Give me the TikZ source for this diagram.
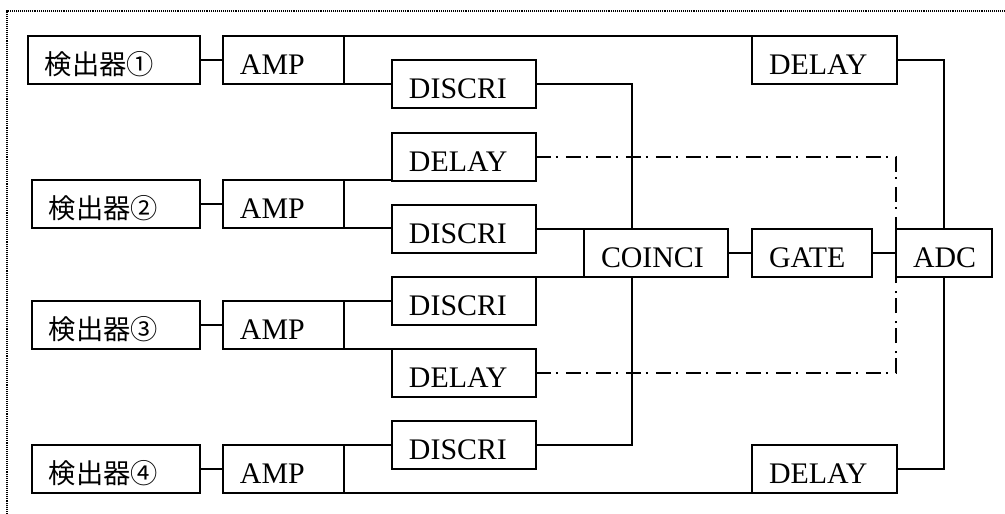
\documentclass[tikz,border=0pt]{standalone}
\usepackage{fontspec}
\setmainfont{Liberation Serif}
\newfontfamily\jpfont{Noto Sans CJK JP}
\usetikzlibrary{calc}

\tikzset{
  modbox/.style={draw, line width=0.9pt, anchor=north west, outer sep=0pt,
    minimum height=0.96cm, inner xsep=0pt, inner ysep=0pt, text width=#1,
    align=left, text height=0.6cm, text depth=0pt,
    execute at begin node={\hspace*{0.34cm}}},
  wire/.style={line width=0.9pt},
  sync/.style={line width=0.9pt, dash pattern=on 0.3cm off 0.1cm on 0.04cm off 0.16cm},
}

\begin{document}
\begin{tikzpicture}[x=0.02cm, y=-0.02cm, font=\fontsize{17pt}{20pt}\selectfont]
  \useasboundingbox (0,0) rectangle (1005,514);

  % dotted frame
  \draw[line width=0.6pt, dash pattern=on 0.55pt off 0.55pt] (7,514) -- (7,11) -- (1005,11);

  % detectors and amplifiers
  \foreach \i/\x/\y/\w/\n in {1/28/36/3.44cm/①, 2/32/180/3.36cm/②, 3/32/301/3.36cm/③, 4/32/445/3.36cm/④} {
    \node[modbox=\w] (det\i) at (\x,\y) {\jpfont\fontsize{15.5pt}{18pt}\selectfont 検出器\n};
    \node[modbox=2.42cm] (amp\i) at (223,\y) {AMP};
    \draw[wire] (det\i) -- (amp\i);
  }

  % discriminators and delays
  \node[modbox=2.88cm] (discA) at (392,60) {DISCRI};
  \node[modbox=2.88cm] (delayB) at (392,133) {DELAY};
  \node[modbox=2.88cm] (discB) at (392,205) {DISCRI};
  \node[modbox=2.88cm] (discC) at (392,277) {DISCRI};
  \node[modbox=2.88cm] (delayC) at (392,349) {DELAY};
  \node[modbox=2.88cm] (discD) at (392,421) {DISCRI};

  \node[modbox=2.9cm] (delayA) at (752,36) {DELAY};
  \node[modbox=2.9cm] (delayD) at (752,445) {DELAY};

  % coincidence, gate, adc
  \node[modbox=2.88cm] (coinci) at (584,229) {COINCI};
  \node[modbox=2.4cm] (gate) at (752,229) {GATE};
  \node[modbox=1.92cm] (adc) at (896,229) {ADC};

  % amp outputs
  \draw[wire] (amp1.north east) -- (delayA.north west);
  \draw[wire] (amp1.south east) -- (amp1.south east -| discA.west);
  \draw[wire] (amp2.north east) -- (amp2.north east -| delayB.west);
  \draw[wire] (amp2.south east) -- (amp2.south east -| discB.west);
  \draw[wire] (amp3.north east) -- (amp3.north east -| discC.west);
  \draw[wire] (amp3.south east) -- (amp3.south east -| delayC.west);
  \draw[wire] (amp4.north east) -- (amp4.north east -| discD.west);
  \draw[wire] (amp4.south east) -- (amp4.south east -| delayD.west);

  % into coinci
  \coordinate (cin) at ($(coinci.north west)!1/3!(coinci.north east)$);
  \coordinate (cout) at ($(coinci.south west)!1/3!(coinci.south east)$);
  \draw[wire] (discA.east) -| (cin);
  \draw[wire] (discB.east) -- (discB.east -| coinci.west);
  \draw[wire] (discC.north east) -- (discC.north east -| coinci.west);
  \draw[wire] (discD.east) -| (cout);
  \draw[wire] (coinci) -- (gate);
  \draw[wire] (gate) -- (adc);

  % into adc
  \draw[wire] (delayA.east) -| (adc.north);
  \draw[wire] (delayD.east) -| (adc.south);
  \draw[sync] (delayB.east) -| (adc.west);
  \draw[sync] (delayC.east) -| (adc.west);
\end{tikzpicture}
\end{document}
